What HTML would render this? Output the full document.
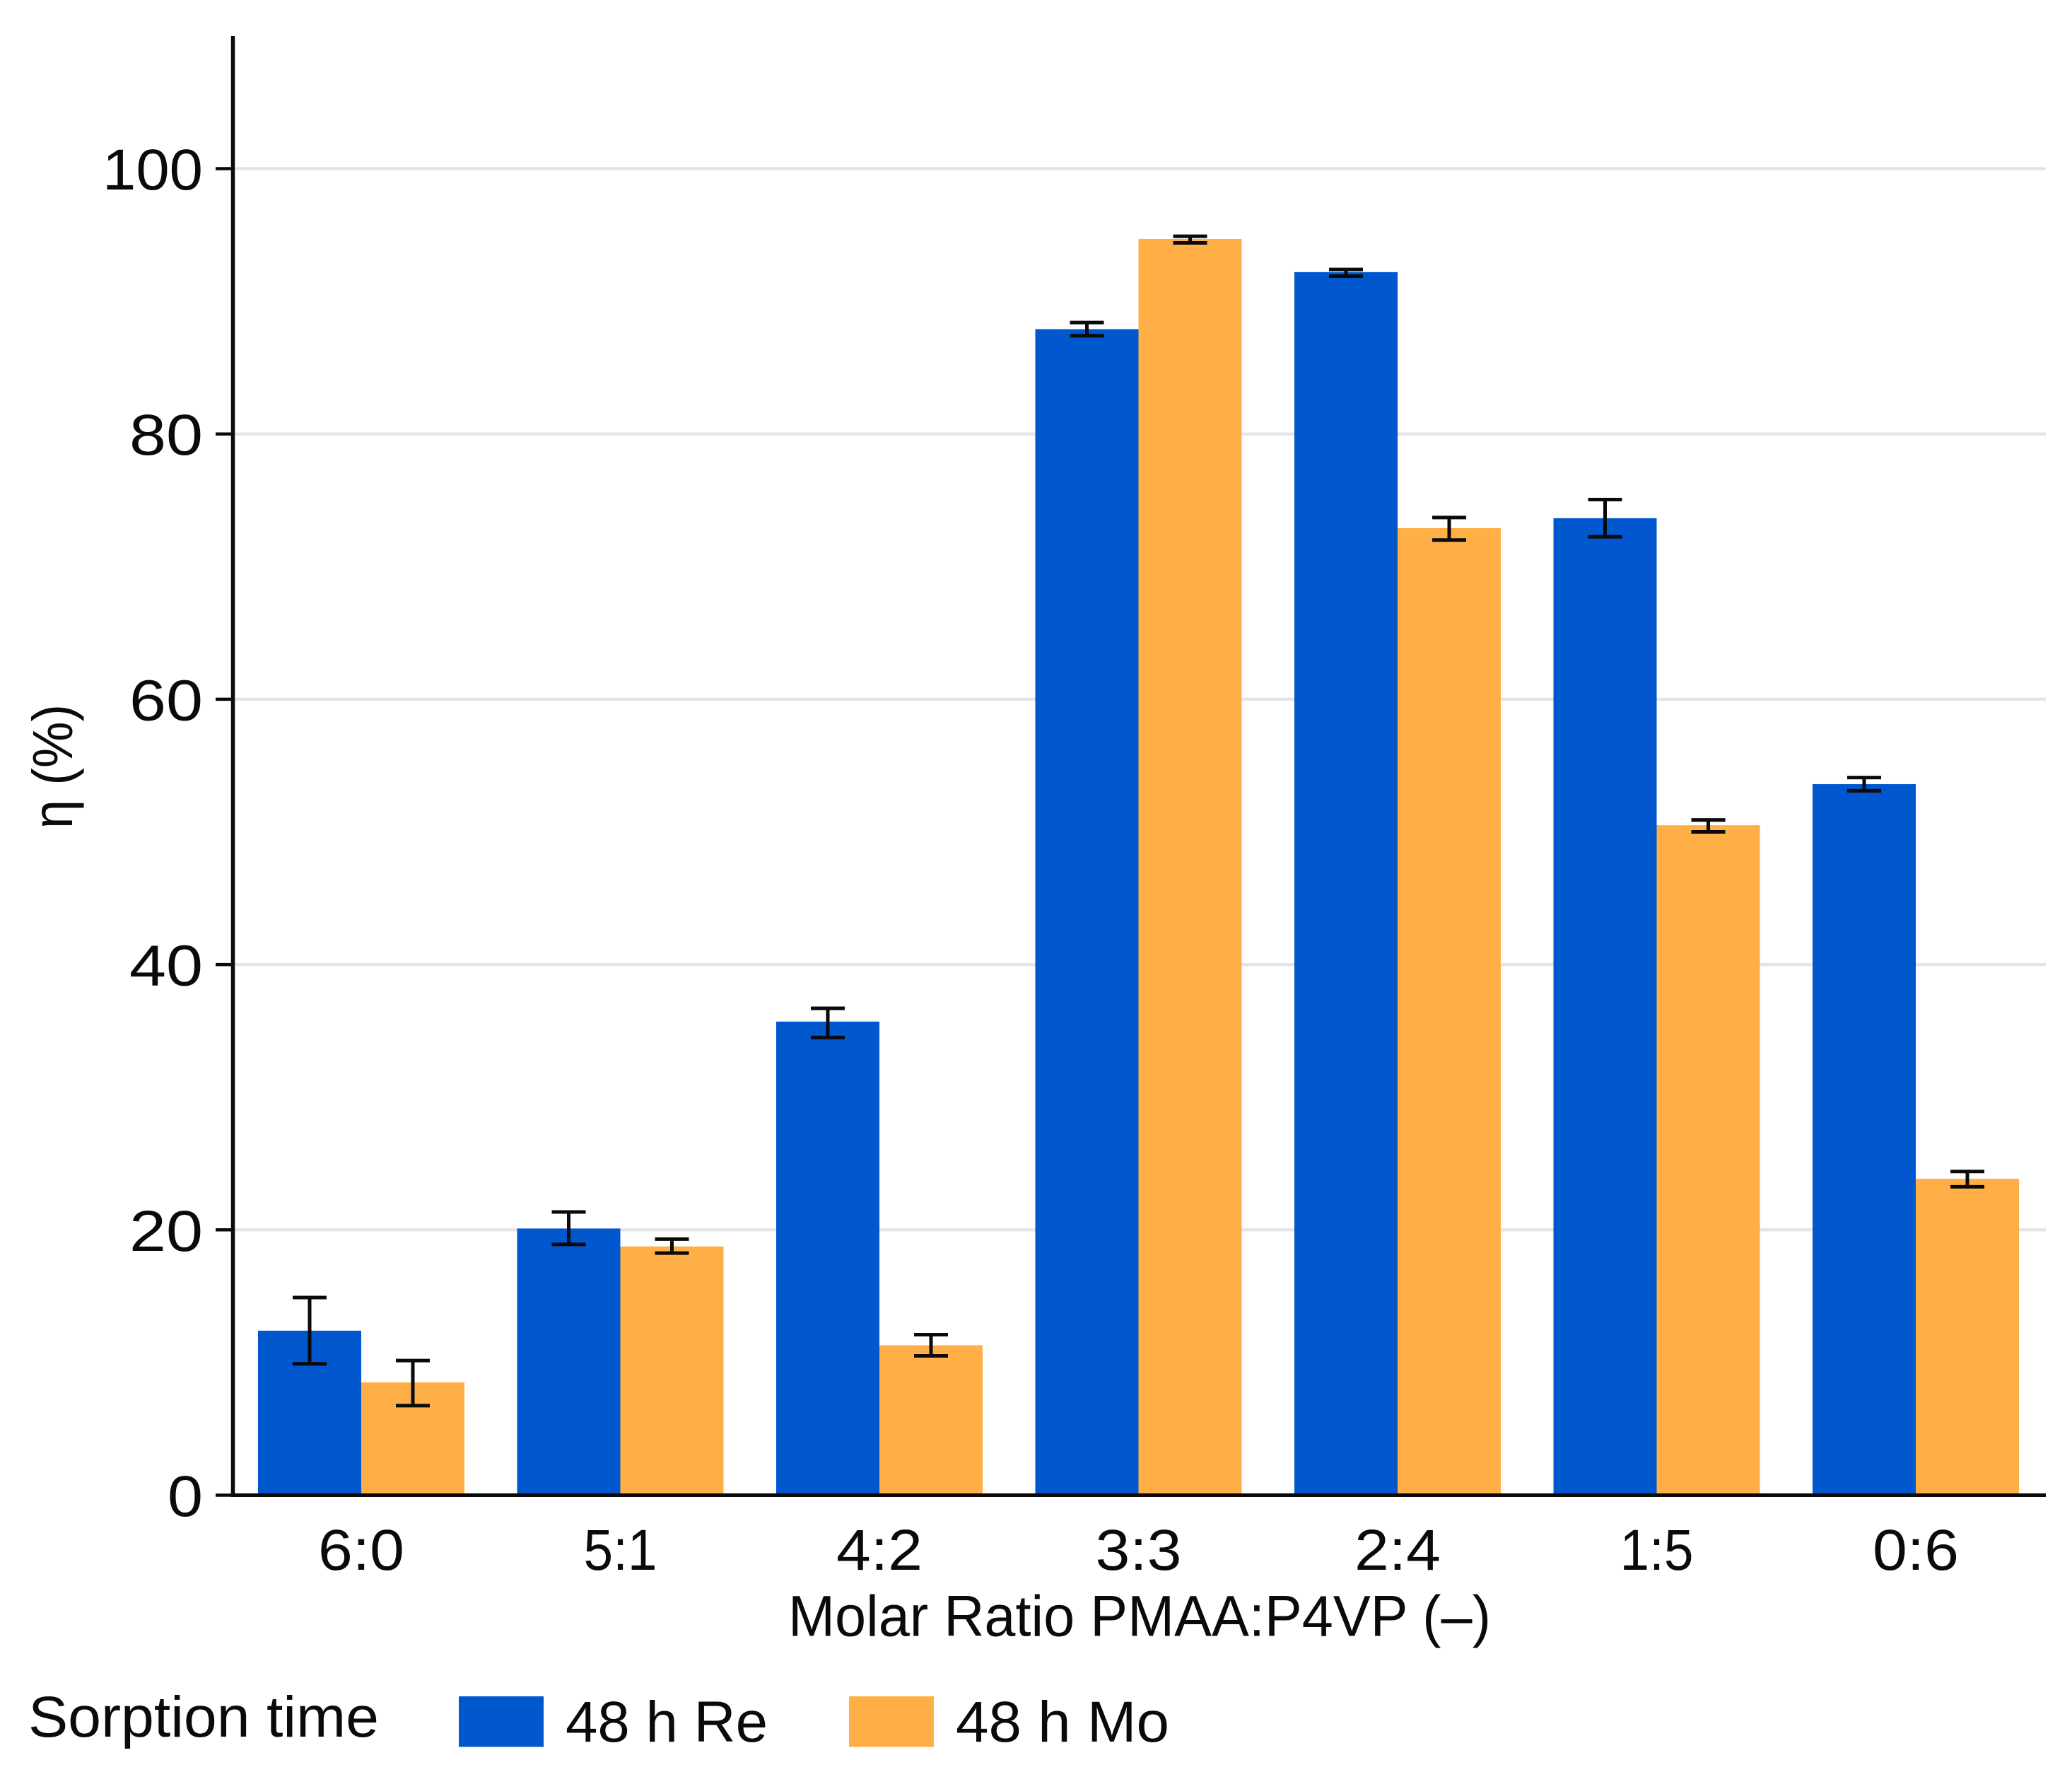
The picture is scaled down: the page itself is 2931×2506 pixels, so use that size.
<!DOCTYPE html>
<html lang="en">
<head>
<meta charset="utf-8">
<title>Sorption efficiency by molar ratio</title>
<style>
html,body{margin:0;padding:0;background:#fff;}
svg{display:block;}
text{font-family:"Liberation Sans",sans-serif;fill:#0a0a0a;}
</style>
</head>
<body>
<svg id="chart" xmlns="http://www.w3.org/2000/svg" width="2931" height="2506" viewBox="0 0 2931 2506">
  <rect x="0" y="0" width="2931" height="2506" fill="#fff"/>
  <g id="grid"></g>
  <g id="bars"></g>
  <g id="errors"></g>
  <g id="axes"></g>
  <text x="1612" y="2313.5" font-size="82" text-anchor="middle" textLength="994" lengthAdjust="spacingAndGlyphs">Molar Ratio PMAA:P4VP (–)</text>
  <text transform="translate(102 1084) rotate(-90)" font-size="80" text-anchor="middle" textLength="176" lengthAdjust="spacingAndGlyphs">η (%)</text>
  <g>
    <text x="40" y="2456" font-size="82" textLength="496" lengthAdjust="spacingAndGlyphs">Sorption time</text>
    <rect x="649" y="2399" width="120" height="71.5" fill="#0057CE"/>
    <text x="800" y="2463" font-size="82" textLength="286" lengthAdjust="spacingAndGlyphs">48 h Re</text>
    <rect x="1201" y="2399" width="120" height="71.5" fill="#FFAF46"/>
    <text x="1352" y="2463" font-size="82" textLength="302" lengthAdjust="spacingAndGlyphs">48 h Mo</text>
  </g>
</svg>
<script>
const categories = ["6:0", "5:1", "4:2", "3:3", "2:4", "1:5", "0:6"];
const reValues = [12.4, 20.1, 35.7, 87.9, 92.2, 73.65, 53.6];
const reLow = [9.9, 18.9, 34.5, 87.4, 91.9, 72.25, 53.1];
const reHigh = [14.9, 21.35, 36.7, 88.4, 92.4, 75.05, 54.1];
const moValues = [8.5, 18.75, 11.3, 94.7, 72.9, 50.5, 23.85];
const moLow = [6.75, 18.25, 10.5, 94.4, 72.0, 50.0, 23.25];
const moHigh = [10.15, 19.3, 12.1, 94.9, 73.7, 50.9, 24.4];
const yTicks = [0, 20, 40, 60, 80, 100];

const NS = "http://www.w3.org/2000/svg";
const Y0 = 2114.5, Y100 = 238.5;
const X0 = 511, STEP = 366.5, BAR_W = 146;
const AXIS_X = 329.5, AXIS_END = 2894, AXIS_TOP = 51;

function yScale(v) { return Y0 - v * (Y0 - Y100) / 100; }
function xScale(i) { return X0 + i * STEP; }
function yLabelWidth(s) { return s.length === 1 ? 50 : (s.length === 2 ? 104 : 142); }
function xLabelWidth(s) { return s.indexOf("1") >= 0 ? 104 : 122; }

function make(tag, attrs, parent) {
  const el = document.createElementNS(NS, tag);
  for (const k in attrs) el.setAttribute(k, attrs[k]);
  parent.appendChild(el);
  return el;
}

const gGrid = document.getElementById("grid");
const gBars = document.getElementById("bars");
const gErr = document.getElementById("errors");
const gAxes = document.getElementById("axes");

yTicks.forEach(function (t) {
  const y = yScale(t);
  if (t > 0) {
    const g = make("line", {x1: AXIS_X, x2: AXIS_END, y1: y, y2: y, stroke: "#E5E5E5", "stroke-width": 4.5}, gGrid);
    
    
  }
  const tick = make("line", {x1: 305, x2: AXIS_X, y1: y, y2: y, stroke: "#0a0a0a", "stroke-width": 4.5}, gAxes);
  
  
  const s = String(t);
  const lab = make("text", {x: 287, y: y + 29.5, "font-size": 82, "text-anchor": "end", textLength: yLabelWidth(s), lengthAdjust: "spacingAndGlyphs"}, gAxes);
  lab.textContent = s;
  
  
});

function drawSeries(name, values, low, high, colour, side) {
  values.forEach(function (v, i) {
    const cx = xScale(i);
    const left = side < 0 ? cx - BAR_W : cx;
    const top = yScale(v);
    const bar = make("rect", {x: left, y: top, width: BAR_W, height: Y0 - top, fill: colour}, gBars);
    
    
    const ex = left + BAR_W / 2;
    const yH = yScale(high[i]), yL = yScale(low[i]);
    const err = make("path", {
      d: "M" + ex + " " + yH + "V" + yL + "M" + (ex - 24) + " " + yH + "H" + (ex + 24) + "M" + (ex - 24) + " " + yL + "H" + (ex + 24),
      stroke: "#0a0a0a", "stroke-width": 5, fill: "none"
    }, gErr);
    
    
  });
}
drawSeries("re", reValues, reLow, reHigh, "#0057CE", -1);
drawSeries("mo", moValues, moLow, moHigh, "#FFAF46", 1);

const yAxis = make("line", {x1: AXIS_X, x2: AXIS_X, y1: AXIS_TOP, y2: Y0 + 2.5, stroke: "#0a0a0a", "stroke-width": 5.5}, gAxes);


const xAxis = make("line", {x1: AXIS_X, x2: AXIS_END, y1: Y0, y2: Y0, stroke: "#0a0a0a", "stroke-width": 5}, gAxes);



categories.forEach(function (c, i) {
  const lab = make("text", {x: xScale(i), y: 2220, "font-size": 82, "text-anchor": "middle", textLength: xLabelWidth(c), lengthAdjust: "spacingAndGlyphs"}, gAxes);
  lab.textContent = c;
  
  
});
</script>
</body>
</html>
